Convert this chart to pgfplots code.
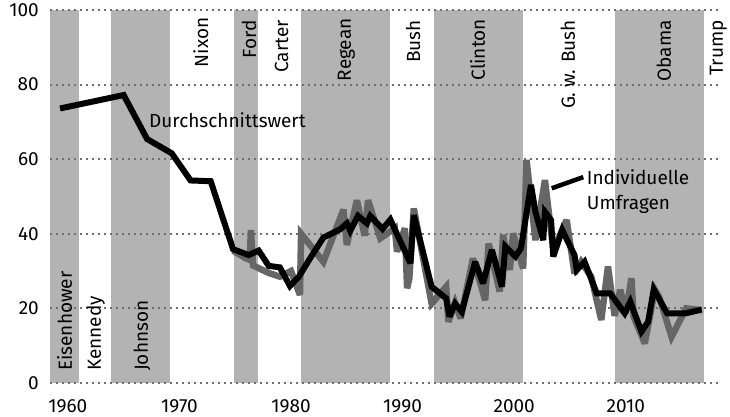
\documentclass[border=0pt]{standalone}
\usepackage{fontspec}
\setmainfont{Fira Sans}
\usepackage{pgfplots}
\usepackage{pgfplotstable}
\pgfplotsset{compat=1.18}
\definecolor{band}{HTML}{B3B3B3}
\definecolor{poll}{HTML}{666666}
\definecolor{gridc}{HTML}{707070}
\pgfplotstableread{
year val
1959.3 73.6
1965.0 77.2
1967.1 65.4
1969.3 61.6
1971.0 54.3
1972.8 54.1
1974.8 35.9
1976.2 34.3
1977.1 35.5
1978.0 31.4
1979.0 31.0
1979.9 26.0
1980.7 28.5
1981.7 33.4
1982.9 39.0
1984.4 41.2
1985.0 42.8
1985.3 40.8
1986.0 44.8
1986.8 42.8
1987.1 44.8
1988.2 41.3
1988.9 43.8
1990.7 32.1
1991.0 45.0
1992.6 25.8
1993.9 22.7
1994.2 17.8
1994.7 21.3
1995.3 19.1
1996.5 32.5
1997.2 26.7
1998.0 35.7
1998.9 25.8
1999.2 36.6
2000.1 33.9
2000.6 36.1
2001.5 53.1
2001.9 45.9
2002.6 38.3
2002.75 45.9
2003.3 43.7
2003.5 33.9
2004.3 41.0
2005.4 34.3
2005.6 30.3
2006.3 32.5
2007.4 24.0
2008.6 24.0
2009.9 18.7
2010.4 21.8
2011.4 13.8
2012.0 16.4
2012.5 25.1
2013.7 18.7
2015.4 18.7
2016.8 19.7
}\avgdata
\pgfplotstableread{
year val
1974.8 35.5
1975.9 33.5
1976.3 33.0
1976.4 41.0
1976.6 31.5
1978.0 29.5
1979.0 28.5
1980.0 30.0
1980.8 23.6
1980.9 40.0
1982.9 32.5
1984.7 46.5
1985.0 37.0
1985.9 49.0
1986.6 39.5
1986.9 49.0
1988.0 38.8
1989.3 41.5
1989.5 35.2
1990.2 41.5
1990.4 25.4
1990.6 28.0
1991.0 46.8
1992.6 21.3
1993.9 25.8
1994.1 16.4
1994.7 21.5
1995.2 17.3
1996.3 33.4
1997.4 22.2
1997.7 37.4
1998.7 24.5
1999.0 39.7
1999.6 30.3
1999.9 40.1
2000.8 30.7
2001.1 59.8
2001.9 38.3
2002.75 54.4
2003.5 35.7
2004.7 43.7
2005.4 29.4
2006.0 32.5
2006.9 28.5
2007.8 16.9
2008.4 31.2
2009.0 18.0
2009.5 25.0
2010.0 18.7
2010.5 28.1
2010.7 17.8
2011.7 10.6
2012.6 25.0
2013.0 23.0
2014.1 12.4
2015.4 20.0
2016.8 19.5
}\polldata
\begin{document}
\begin{tikzpicture}[font=\fontsize{19}{22}\selectfont]
\begin{axis}[name=ax, set layers, scale only axis,
  width=670pt, height=373pt,
  xmin=1958.4, xmax=2018.44, ymin=0, ymax=100,
  xtick={1960,1970,...,2010}, ytick={0,20,...,100},
  axis line style={draw=none}, major tick length=0pt,
  ymajorgrids,
  major grid style={draw=gridc, line width=2pt, dash pattern=on 2pt off 4pt},
  /pgf/number format/assume math mode=true,
  /pgf/number format/1000 sep={},
  tick label style={font=\fontsize{19}{22}\selectfont},
  x tick label style={inner sep=0pt, anchor=north, yshift=-16pt},
  y tick label style={inner sep=0pt, anchor=east, xshift=-11pt},
  clip=false]
\addplot[fill=band, draw=none, on layer=axis background] coordinates {(1958.4,100) (1961.0,100)} \closedcycle;
\addplot[fill=band, draw=none, on layer=axis background] coordinates {(1963.87,100) (1969.15,100)} \closedcycle;
\addplot[fill=band, draw=none, on layer=axis background] coordinates {(1974.89,100) (1977.04,100)} \closedcycle;
\addplot[fill=band, draw=none, on layer=axis background] coordinates {(1980.89,100) (1988.87,100)} \closedcycle;
\addplot[fill=band, draw=none, on layer=axis background] coordinates {(1992.81,100) (2000.78,100)} \closedcycle;
\addplot[fill=band, draw=none, on layer=axis background] coordinates {(2009.03,100) (2017.0,100)} \closedcycle;
\addplot[poll, line width=6.5pt, line join=miter, miter limit=3, no marks] table[x=year,y=val] {\polldata};
\addplot[black, line width=6pt, line join=miter, miter limit=3, no marks] table[x=year,y=val] {\avgdata};
\draw[line width=4.5pt] (axis cs:2003.36,52.2) -- (axis cs:2006.19,55.2);
\node[anchor=base west, inner sep=0pt] at (axis cs:1967.27,68.6) {Durchschnittswert};
\node[anchor=base west, inner sep=0pt] at (axis cs:2006.5,53.1) {Individuelle};
\node[anchor=base west, inner sep=0pt] at (axis cs:2006.5,46.4) {Umfragen};
\node[rotate=90, anchor=base west, inner sep=0pt] at (axis cs:1960.37,3.2) {Eisenhower};
\node[rotate=90, anchor=base west, inner sep=0pt] at (axis cs:1962.97,3.2) {Kennedy};
\node[rotate=90, anchor=base west, inner sep=0pt] at (axis cs:1967.18,3.2) {Johnson};
\node[rotate=90, anchor=base east, inner sep=0pt] at (axis cs:1972.56,98.0) {Nixon};
\node[rotate=90, anchor=base east, inner sep=0pt] at (axis cs:1976.86,97.3) {Ford};
\node[rotate=90, anchor=base east, inner sep=0pt] at (axis cs:1979.73,97.3) {Carter};
\node[rotate=90, anchor=base east, inner sep=0pt] at (axis cs:1985.37,97.8) {Regean};
\node[rotate=90, anchor=base east, inner sep=0pt] at (axis cs:1991.56,97.3) {Bush};
\node[rotate=90, anchor=base east, inner sep=0pt] at (axis cs:1997.38,97.6) {Clinton};
\node[rotate=90, anchor=base east, inner sep=0pt] at (axis cs:2005.44,97.3) {G. w. Bush};
\node[rotate=90, anchor=base east, inner sep=0pt] at (axis cs:2014.04,97.3) {Obama};
\node[rotate=90, anchor=base east, inner sep=0pt] at (axis cs:2018.7,97.3) {Trump};
\end{axis}
\path (ax.south west) ++(-50pt,-33pt);
\path (ax.north east) ++(10pt,10pt);
\end{tikzpicture}
\end{document}
